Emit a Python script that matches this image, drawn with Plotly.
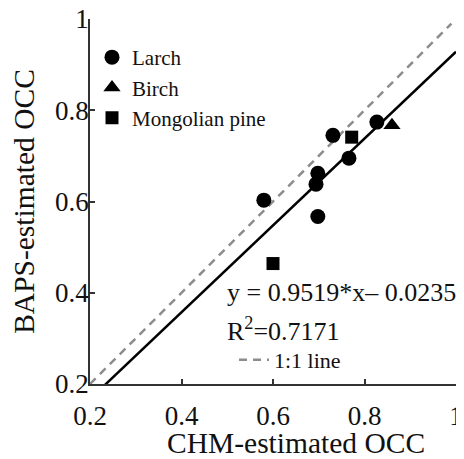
import plotly.graph_objects as go

# Data
larch_x = [0.827, 0.731, 0.766, 0.698, 0.694, 0.580, 0.698]
larch_y = [0.774, 0.745, 0.695, 0.662, 0.638, 0.603, 0.567]
birch_x = [0.860]
birch_y = [0.767]
pine_x = [0.772, 0.600]
pine_y = [0.741, 0.464]

fit_slope = 0.9519
fit_intercept = -0.0235
fit_r2 = 0.7171
fit_x = [0.2, 1.0]
one_x = [0.2, 0.99]

x_ticks = [0.2, 0.4, 0.6, 0.8, 1.0]
x_ticklabels = ["0.2", "0.4", "0.6", "0.8", "1"]
y_ticks = [0.2, 0.4, 0.6, 0.8, 1.0]
y_ticklabels = ["0.2", "0.4", "0.6", "0.8", "1"]
x_title = "CHM-estimated OCC"
y_title = "BAPS-estimated OCC"

FONT = "Liberation Serif"

fig = go.Figure()
fig.add_trace(go.Scatter(x=one_x, y=one_x, mode="lines", name="1:1 line",
                         line=dict(color="#8c8c8c", width=2.5, dash="8px,6px"),
                         legend="legend2"))
fig.add_trace(go.Scatter(x=fit_x, y=[fit_slope * v + fit_intercept for v in fit_x],
                         mode="lines", showlegend=False,
                         line=dict(color="black", width=2.5)))
fig.add_trace(go.Scatter(x=larch_x, y=larch_y, mode="markers", name="Larch",
                         marker=dict(symbol="circle", size=15, color="black")))
fig.add_trace(go.Scatter(x=birch_x, y=birch_y, mode="markers", name="Birch",
                         marker=dict(symbol="triangle-up", size=15, color="black")))
fig.add_trace(go.Scatter(x=pine_x, y=pine_y, mode="markers", name="Mongolian pine",
                         marker=dict(symbol="square", size=13, color="black")))

# The page body has an 8px margin, so the figure is laid out 8px smaller.
OFF = 8
W, H = 464 - OFF, 459 - OFF
L, R, T, B = 90 - OFF, 8, 19 - OFF, 75
pw, ph = W - L - R, H - T - B
def px(page_x):
    return (page_x - OFF - L) / pw
def py(page_y):
    return (H - B - (page_y - OFF)) / ph

fig.add_annotation(x=px(225), y=py(292), xref="paper", yref="paper", showarrow=False,
                   text="y = %.4f*x– %.4f" % (fit_slope, -fit_intercept),
                   xanchor="left", yanchor="middle",
                   font=dict(family=FONT, size=26, color="#111"))
fig.add_annotation(x=px(225), y=py(329), xref="paper", yref="paper", showarrow=False,
                   text="R<sup>2</sup>=%.4f" % fit_r2,
                   xanchor="left", yanchor="middle",
                   font=dict(family=FONT, size=26, color="#111"))
fig.add_annotation(x=px(296), y=py(443), xref="paper", yref="paper", showarrow=False,
                   text=x_title, xanchor="center", yanchor="middle",
                   font=dict(family=FONT, size=29.5, color="#111"))

fig.update_layout(
    width=W, height=H,
    margin=dict(l=L, r=R, t=T, b=B),
    paper_bgcolor="white", plot_bgcolor="white",
    font=dict(family=FONT, size=25, color="#111"),
    legend=dict(x=px(92), y=py(37), xanchor="left", yanchor="top",
                bgcolor="rgba(0,0,0,0)", font=dict(family=FONT, size=21, color="#111"),
                itemwidth=30, tracegroupgap=0),
    legend2=dict(x=px(234), y=py(339), xanchor="left", yanchor="top",
                 bgcolor="rgba(0,0,0,0)", font=dict(family=FONT, size=22, color="#111")),
    xaxis=dict(range=[0.2, 1.0], tickvals=x_ticks, ticktext=x_ticklabels, automargin=False,
               ticklabelstandoff=7, ticklabeloverflow="allow",
               showgrid=False, zeroline=False, showline=True, linecolor="#333",
               linewidth=1.5, ticks="inside", ticklen=5, tickcolor="#333", tickwidth=1.5,
               tickfont=dict(family=FONT, size=27, color="#111")),
    yaxis=dict(range=[0.2, 1.0], tickvals=y_ticks, ticktext=y_ticklabels, automargin=False,
               ticklabelstandoff=-6, ticklabeloverflow="allow",
               showgrid=False, zeroline=False, showline=True, linecolor="#333",
               linewidth=1.5, ticks="inside", ticklen=5, tickcolor="#333", tickwidth=1.5,
               tickfont=dict(family=FONT, size=27, color="#111"),
               title=dict(text=y_title, standoff=24,
                          font=dict(family=FONT, size=29.5, color="#111"))),
)

fig.write_html("out.html")
